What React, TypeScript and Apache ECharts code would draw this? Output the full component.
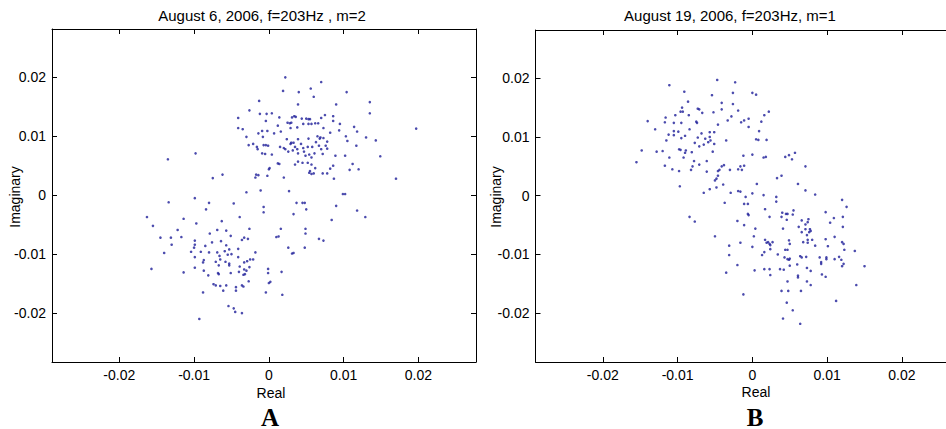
import React, { useEffect, useRef } from "react";
import * as echarts from "echarts";

// ---------- data ----------
const realTicks = [-0.02, -0.01, 0, 0.01, 0.02];
const imagTicks = [-0.02, -0.01, 0, 0.01, 0.02];
const realRange = [-0.029, 0.0277];
const imagRange = [-0.0283, 0.0282];

const titleA = "August 6, 2006, f=203Hz , m=2";
const titleB = "August 19, 2006, f=203Hz, m=1";
const panelLabels = ["A", "B"];
const xName = "Real";
const yName = "Imaginary";

// Panel A: August 6, 2006 (real, imaginary)
const pointsA: [number, number][] = [
  [0.0022, 0.02], [0.007, 0.0192], [0.0019, 0.0177], [0.004, 0.0175], [0.0056, 0.0181],
  [0.0104, 0.0175], [-0.0013, 0.016], [0.006, 0.0167], [0.0135, 0.0158], [0.0039, 0.0154],
  [0.009, 0.0154], [-0.0026, 0.0144], [-0.0012, 0.0138], [0.0004, 0.0139], [-0.0003, 0.0138],
  [0.0014, 0.0132], [-0.0041, 0.0131], [0.0034, 0.0134], [0.0036, 0.0133], [0.0031, 0.0132],
  [0.0044, 0.013], [0.005, 0.013], [0.0053, 0.0129], [0.0055, 0.0129], [0.007, 0.0131],
  [0.0075, 0.0136], [0.0086, 0.0134], [0.0135, 0.0139], [-0.0004, 0.0126], [0.0012, 0.0118],
  [0.0025, 0.0123], [0.0028, 0.0122], [0.003, 0.0123], [0.0038, 0.0115], [0.0046, 0.0121],
  [0.0053, 0.0121], [0.0057, 0.0121], [0.0062, 0.0122], [0.0066, 0.0122], [0.0086, 0.0126],
  [0.0095, 0.0121], [0.0114, 0.0116], [0.0073, 0.0114], [0.0029, 0.0114], [-0.0041, 0.0114],
  [-0.0035, 0.0112], [-0.0009, 0.0109], [-0.0002, 0.0109], [0.0007, 0.0105], [0.0016, 0.0108],
  [0.0082, 0.0106], [0.0094, 0.011], [0.0118, 0.0108], [-0.003, 0.0099], [-0.0014, 0.0105],
  [-0.0008, 0.0099], [0.0065, 0.01], [0.0069, 0.0098], [0.0073, 0.0097], [0.0068, 0.0096],
  [0.0103, 0.01], [0.013, 0.0098], [0.0143, 0.0093], [0.0197, 0.0113], [0.0024, 0.0095],
  [0.0039, 0.0095], [0.0053, 0.0096], [0.0063, 0.009], [0.0078, 0.0091], [0.0105, 0.0092],
  [-0.0027, 0.0085], [-0.0021, 0.0087], [-0.0007, 0.0085], [-0.0004, 0.0085], [-0.0001, 0.0084],
  [-0.0016, 0.0082], [-0.0015, 0.0078], [0.0015, 0.0082], [0.002, 0.008], [0.0029, 0.0087],
  [0.003, 0.0089], [0.0033, 0.0089], [0.0022, 0.0078], [0.0035, 0.0082], [0.0043, 0.0087],
  [0.0046, 0.008], [0.0052, 0.0082], [0.0058, 0.0082], [0.0067, 0.0084], [0.0076, 0.0084],
  [0.0078, 0.0079], [0.0117, 0.0084], [-0.0009, 0.0071], [-0.0005, 0.007], [0.0004, 0.0069],
  [0.0026, 0.0074], [0.0032, 0.0076], [0.0038, 0.0078], [0.0039, 0.0071], [0.0047, 0.0074],
  [0.0049, 0.0067], [0.0054, 0.0069], [0.0061, 0.0071], [0.007, 0.0078], [0.0072, 0.007],
  [0.0089, 0.0067], [0.0102, 0.0067], [0.0149, 0.0066], [0.0057, 0.0064], [0.0039, 0.0057],
  [0.0035, 0.0052], [0.0045, 0.0055], [0.0052, 0.0055], [0.0057, 0.0052], [0.0062, 0.0046],
  [0.0055, 0.0041], [0.006, 0.0037], [0.0112, 0.0053], [0.0086, 0.005], [0.0082, 0.0045],
  [0.0108, 0.0043], [0.012, 0.0044], [0.0012, 0.0054], [0.0014, 0.0053], [0.0, 0.0044],
  [-0.0002, 0.0033], [0.0001, 0.0046], [0.0054, 0.0038], [0.0057, 0.0036], [0.0072, 0.0037],
  [0.0078, 0.0037], [0.0087, 0.0028], [-0.0017, 0.0035], [-0.0014, 0.0034], [-0.0018, 0.003],
  [0.002, 0.003], [-0.0098, 0.0071], [-0.0135, 0.0061], [-0.0075, 0.0029], [-0.0062, 0.0035],
  [0.017, 0.0028], [-0.0011, 0.0008], [-0.003, 0.0005], [0.0027, 0.0007], [0.0099, 0.0002],
  [0.0102, 0.0002], [-0.0099, -0.0005], [-0.0134, -0.0012], [-0.008, -0.0013], [-0.0047, -0.0014],
  [0.0037, -0.0013], [0.0045, -0.0013], [0.0048, -0.0013], [0.005, -0.0024], [-0.0007, -0.002],
  [-0.0007, -0.0029], [0.0118, -0.0026], [0.009, -0.0018], [-0.0084, -0.0024], [0.0033, -0.0032],
  [-0.0163, -0.0037], [-0.0114, -0.004], [-0.0039, -0.0037], [0.0129, -0.0037], [-0.0155, -0.0052],
  [-0.0097, -0.0048], [-0.0063, -0.0044], [0.0084, -0.0042], [-0.0122, -0.0059], [-0.0145, -0.0072],
  [-0.0131, -0.0072], [-0.0117, -0.0071], [-0.0069, -0.0059], [-0.0057, -0.006], [-0.0026, -0.0057],
  [0.0049, -0.0057], [0.0049, -0.0065], [-0.0079, -0.0065], [-0.0051, -0.0069], [-0.0033, -0.0072],
  [-0.0036, -0.0076], [-0.0028, -0.0074], [0.001, -0.0071], [0.0013, -0.007], [0.0016, -0.0057],
  [0.0067, -0.0074], [0.0073, -0.0077], [-0.013, -0.0084], [-0.014, -0.0098], [-0.0099, -0.0077],
  [-0.0099, -0.0084], [-0.01, -0.0089], [-0.0085, -0.0086], [-0.0076, -0.008], [-0.0064, -0.0078],
  [-0.0057, -0.0085], [-0.0041, -0.0091], [-0.0053, -0.0092], [-0.0059, -0.0095], [-0.0104, -0.0096],
  [-0.0091, -0.0096], [-0.008, -0.0097], [-0.0069, -0.0097], [-0.0055, -0.0101], [-0.005, -0.01],
  [-0.0018, -0.0097], [0.0026, -0.0089], [0.0031, -0.0099], [0.0033, -0.0098], [0.0048, -0.0089],
  [-0.0099, -0.0105], [-0.0087, -0.011], [-0.0088, -0.0114], [-0.0066, -0.0103], [-0.0065, -0.0109],
  [-0.0071, -0.0113], [-0.0058, -0.0113], [-0.0053, -0.0116], [-0.0053, -0.0119], [-0.0041, -0.0105],
  [-0.0033, -0.0114], [-0.0025, -0.0109], [-0.0021, -0.0109], [-0.0029, -0.0112], [-0.0067, -0.0119],
  [-0.0157, -0.0125], [-0.0114, -0.0131], [-0.0099, -0.0123], [-0.0087, -0.0128], [-0.0068, -0.0132],
  [-0.0067, -0.0134], [-0.0051, -0.0132], [-0.0039, -0.0121], [-0.004, -0.013], [-0.0033, -0.0126],
  [-0.003, -0.0128], [-0.0034, -0.0135], [-0.0032, -0.0134], [-0.0026, -0.0122], [-0.0081, -0.0136],
  [-0.0001, -0.0125], [-0.0001, -0.0132], [0.0017, -0.013], [-0.0074, -0.0151], [-0.0071, -0.0153],
  [-0.0065, -0.0154], [-0.0057, -0.0153], [-0.0061, -0.0162], [-0.0036, -0.0153], [-0.0034, -0.0155],
  [-0.0027, -0.0146], [-0.0044, -0.0156], [-0.0044, -0.0162], [-0.0088, -0.0165], [-0.0004, -0.0165],
  [0.0018, -0.0169], [0.0, -0.0149], [0.0002, -0.0147], [-0.0054, -0.0188], [-0.0047, -0.0192],
  [-0.0045, -0.0198], [-0.0036, -0.02], [-0.0093, -0.021],
];

// Panel B: August 19, 2006 (real, imaginary)
const pointsB: [number, number][] = [
  [-0.0111, 0.0188], [-0.0047, 0.0197], [-0.0023, 0.0193], [-0.0091, 0.0177], [-0.0054, 0.0171],
  [-0.0026, 0.0175], [0.0, 0.0175], [0.0005, 0.0172], [-0.0086, 0.016], [-0.0041, 0.0158],
  [-0.0026, 0.0156], [-0.0094, 0.015], [-0.0096, 0.0143], [-0.0093, 0.0143], [-0.0073, 0.0148],
  [-0.0071, 0.0147], [-0.0067, 0.0141], [-0.0052, 0.0142], [-0.0041, 0.0147], [-0.0019, 0.0145],
  [-0.0103, 0.0137], [-0.0085, 0.0137], [-0.0116, 0.0133], [-0.0028, 0.0135], [-0.0011, 0.0128],
  [-0.0005, 0.0131], [0.0016, 0.0137], [0.0022, 0.0143], [-0.014, 0.0127], [-0.0117, 0.0125],
  [-0.0105, 0.0124], [-0.0095, 0.0124], [-0.0075, 0.0126], [-0.0074, 0.0124], [-0.0046, 0.0121],
  [-0.0033, 0.0128], [-0.0015, 0.0125], [-0.0005, 0.0117], [0.0012, 0.0126], [-0.013, 0.0113],
  [-0.0105, 0.011], [-0.0099, 0.0109], [-0.0084, 0.0113], [-0.0068, 0.0106], [-0.0057, 0.0108],
  [-0.0051, 0.0108], [-0.0112, 0.0104], [-0.0095, 0.0098], [-0.0105, 0.0103], [-0.0115, 0.0094],
  [-0.009, 0.0102], [-0.0073, 0.0099], [-0.0063, 0.0097], [-0.0057, 0.01], [-0.0056, 0.0094],
  [-0.0059, 0.0091], [-0.0051, 0.0088], [-0.0035, 0.0094], [0.0005, 0.0096], [0.0008, 0.0095],
  [0.0019, 0.0095], [0.0009, 0.011], [-0.0077, 0.009], [-0.0071, 0.0084], [-0.0065, 0.0087],
  [-0.0098, 0.0079], [-0.0096, 0.0078], [-0.0089, 0.0077], [-0.009, 0.0073], [-0.0148, 0.0077],
  [-0.0128, 0.0075], [-0.012, 0.0076], [-0.0081, 0.0074], [-0.0053, 0.0075], [-0.0111, 0.0065],
  [-0.0092, 0.0065], [-0.0078, 0.0059], [-0.0071, 0.0053], [-0.0061, 0.0059], [-0.0155, 0.0057],
  [-0.0117, 0.0051], [-0.0107, 0.0045], [-0.0098, 0.0042], [-0.0082, 0.0044], [-0.008, 0.005],
  [-0.0061, 0.0041], [-0.0046, 0.0042], [-0.0044, 0.0044], [-0.0041, 0.005], [-0.0038, 0.0052],
  [-0.003, 0.0044], [-0.0019, 0.0045], [-0.0016, 0.005], [-0.0014, 0.0044], [-0.0011, 0.0051],
  [-0.0012, 0.0068], [0.0, 0.007], [0.0015, 0.0065], [0.0018, 0.0066], [0.0044, 0.0066],
  [0.0049, 0.0069], [0.0053, 0.0062], [0.0057, 0.0073], [0.0071, 0.005], [-0.0046, 0.0034],
  [-0.0048, 0.0029], [-0.005, 0.0026], [0.0006, 0.002], [0.0033, 0.003], [0.0039, 0.0034],
  [-0.0097, 0.0016], [-0.0065, 0.0005], [-0.0057, 0.0011], [-0.0048, 0.0014], [-0.0039, 0.0019],
  [-0.0029, 0.0005], [-0.0019, 0.0008], [-0.0016, 0.0007], [-0.0009, -0.0002], [0.0, 0.0004],
  [0.0015, 0.0001], [0.0032, -0.0002], [0.0032, -0.001], [0.0061, 0.002], [0.0071, 0.0009],
  [0.0084, 0.0002], [-0.0011, -0.0014], [-0.0006, -0.0014], [0.012, -0.0007], [0.0126, -0.0019],
  [0.0017, -0.0023], [-0.0006, -0.0031], [-0.0005, -0.0033], [0.004, -0.0029], [0.0045, -0.0031],
  [0.0047, -0.0031], [0.0055, -0.0025], [0.0054, -0.0032], [0.0023, -0.0036], [0.0039, -0.0036],
  [0.0046, -0.0041], [0.0098, -0.0028], [-0.002, -0.0043], [-0.0011, -0.005], [0.0066, -0.0042],
  [0.0074, -0.0045], [0.0075, -0.004], [0.0104, -0.0046], [0.0109, -0.0038], [0.0121, -0.0036],
  [0.0121, -0.0053], [0.0041, -0.0056], [0.0062, -0.0053], [0.0004, -0.0056], [0.0071, -0.0049],
  [0.0071, -0.0057], [0.0077, -0.0057], [0.0078, -0.006], [0.0076, -0.0062], [0.0066, -0.0062],
  [0.0073, -0.0067], [0.0002, -0.0069], [0.011, -0.007], [0.0098, -0.0074], [-0.0031, -0.0085],
  [-0.0016, -0.008], [0.0017, -0.0075], [0.0019, -0.008], [0.0021, -0.0079], [0.0023, -0.0082],
  [0.0027, -0.0079], [0.0024, -0.0084], [0.0049, -0.0076], [0.005, -0.0082], [0.0068, -0.0079],
  [0.0074, -0.0075], [0.0074, -0.008], [0.008, -0.0075], [0.0084, -0.0085], [0.0101, -0.0086],
  [0.012, -0.0079], [0.0122, -0.0082], [0.0123, -0.0092], [0.0137, -0.0094], [0.0, -0.0087],
  [0.0016, -0.0096], [0.0013, -0.0101], [0.0024, -0.0091], [0.0044, -0.0092], [0.0047, -0.0092],
  [0.0034, -0.01], [0.0043, -0.0105], [0.0047, -0.0108], [0.0049, -0.0109], [0.005, -0.0107],
  [0.0064, -0.0103], [0.0066, -0.0105], [0.0072, -0.0104], [0.009, -0.0105], [0.0092, -0.0113],
  [0.0092, -0.0116], [0.0099, -0.0105], [0.0099, -0.0108], [0.011, -0.0108], [0.0116, -0.0104],
  [0.0119, -0.0109], [0.0122, -0.0116], [0.012, -0.012], [-0.0031, -0.0101], [-0.002, -0.0118],
  [0.0003, -0.0127], [0.0016, -0.0125], [0.0023, -0.0125], [0.0024, -0.0135], [0.0037, -0.0125],
  [0.0042, -0.0126], [0.005, -0.0119], [0.006, -0.0117], [0.0073, -0.0123], [0.0078, -0.0128],
  [0.0061, -0.0136], [0.0061, -0.0139], [0.0073, -0.0146], [0.0078, -0.0152], [0.0093, -0.0134],
  [0.0098, -0.0138], [0.015, -0.012], [0.0139, -0.0152], [0.0112, -0.0179], [0.0047, -0.0146],
  [0.0039, -0.0162], [0.0048, -0.0162], [0.0065, -0.0162], [-0.0012, -0.0168], [0.0046, -0.0182],
  [0.0054, -0.0195], [0.0041, -0.0209], [0.0064, -0.0218], [-0.0037, -0.0012], [-0.0084, -0.0036],
  [-0.0077, -0.0044], [-0.005, -0.0069], [-0.0035, -0.0131],
];

// ---------- styles ----------
const SANS = "'Liberation Sans', Arial, Helvetica, sans-serif";
const SERIF = "'Liberation Serif', 'Times New Roman', serif";
const DOT = "#1e1e98";

const fmt = (v: number) => (Math.abs(v) < 1e-12 ? "0" : String(Number(v.toFixed(3))));

function xAxes(gridIndex: number) {
  const base = {
    type: "value" as const,
    gridIndex,
    min: realRange[0],
    max: realRange[1],
    splitLine: { show: false },
    axisLine: { show: true, onZero: false, lineStyle: { color: "#000", width: 1 } },
  };
  return [
    {
      ...base,
      position: "bottom",
      axisTick: { show: true, inside: true, length: 5, customValues: realTicks, lineStyle: { color: "#000" } },
      axisLabel: { show: true, customValues: realTicks, formatter: fmt, color: "#000", fontSize: 14, fontFamily: SANS, margin: 6 },
    },
    {
      ...base,
      position: "top",
      axisTick: { show: true, inside: true, length: 5, customValues: realTicks, lineStyle: { color: "#000" } },
      axisLabel: { show: false },
    },
  ];
}

function yAxes(gridIndex: number) {
  const base = {
    type: "value" as const,
    gridIndex,
    min: imagRange[0],
    max: imagRange[1],
    splitLine: { show: false },
    axisLine: { show: true, onZero: false, lineStyle: { color: "#000", width: 1 } },
  };
  return [
    {
      ...base,
      position: "left",
      axisTick: { show: true, inside: true, length: 5, customValues: imagTicks, lineStyle: { color: "#000" } },
      axisLabel: { show: true, customValues: imagTicks, formatter: fmt, color: "#000", fontSize: 14, fontFamily: SANS, margin: 6 },
    },
    {
      ...base,
      position: "right",
      axisTick: { show: true, inside: true, length: 5, customValues: imagTicks, lineStyle: { color: "#000" } },
      axisLabel: { show: false },
    },
  ];
}

function txt(text: string, x: number, y: number, font: string, rotation = 0) {
  return {
    type: "text",
    x,
    y,
    rotation,
    silent: true,
    style: { text, font, fill: "#000", textAlign: "center", textVerticalAlign: "middle" },
  };
}

export default function App() {
  const ref = useRef<HTMLDivElement>(null);

  useEffect(() => {
    if (!ref.current) return;
    const chart = echarts.init(ref.current, undefined, { renderer: "svg" });
    chart.setOption({
      animation: false,
      backgroundColor: "#fff",
      grid: [
        { left: 52, top: 29, width: 424, height: 333 },
        { left: 535.5, top: 30, width: 424, height: 332 },
      ],
      xAxis: [...xAxes(0), ...xAxes(1)],
      yAxis: [...yAxes(0), ...yAxes(1)],
      series: [
        {
          type: "scatter",
          xAxisIndex: 0,
          yAxisIndex: 0,
          data: pointsA,
          symbol: "circle",
          symbolSize: 2.6,
          itemStyle: { color: DOT },
          silent: true,
        },
        {
          type: "scatter",
          xAxisIndex: 2,
          yAxisIndex: 2,
          data: pointsB,
          symbol: "circle",
          symbolSize: 2.6,
          itemStyle: { color: DOT },
          silent: true,
        },
      ],
      graphic: [
        txt(titleA, 262, 15, `15px ${SANS}`),
        txt(titleB, 730, 15, `15px ${SANS}`),
        txt(xName, 271, 393, `14px ${SANS}`),
        txt(xName, 756, 392, `14px ${SANS}`),
        txt(yName, 15, 197, `14px ${SANS}`, Math.PI / 2),
        txt(yName, 496, 197, `14px ${SANS}`, Math.PI / 2),
        txt(panelLabels[0], 270, 417, `bold 25px ${SERIF}`),
        txt(panelLabels[1], 755, 417, `bold 25px ${SERIF}`),
      ],
    });
    return () => chart.dispose();
  }, []);

  return (
    <div
      style={{
        position: "fixed",
        left: 0,
        top: 0,
        width: 946,
        height: 429,
        overflow: "hidden",
        background: "#fff",
      }}
    >
      <div ref={ref} style={{ width: 980, height: 429 }} />
    </div>
  );
}
